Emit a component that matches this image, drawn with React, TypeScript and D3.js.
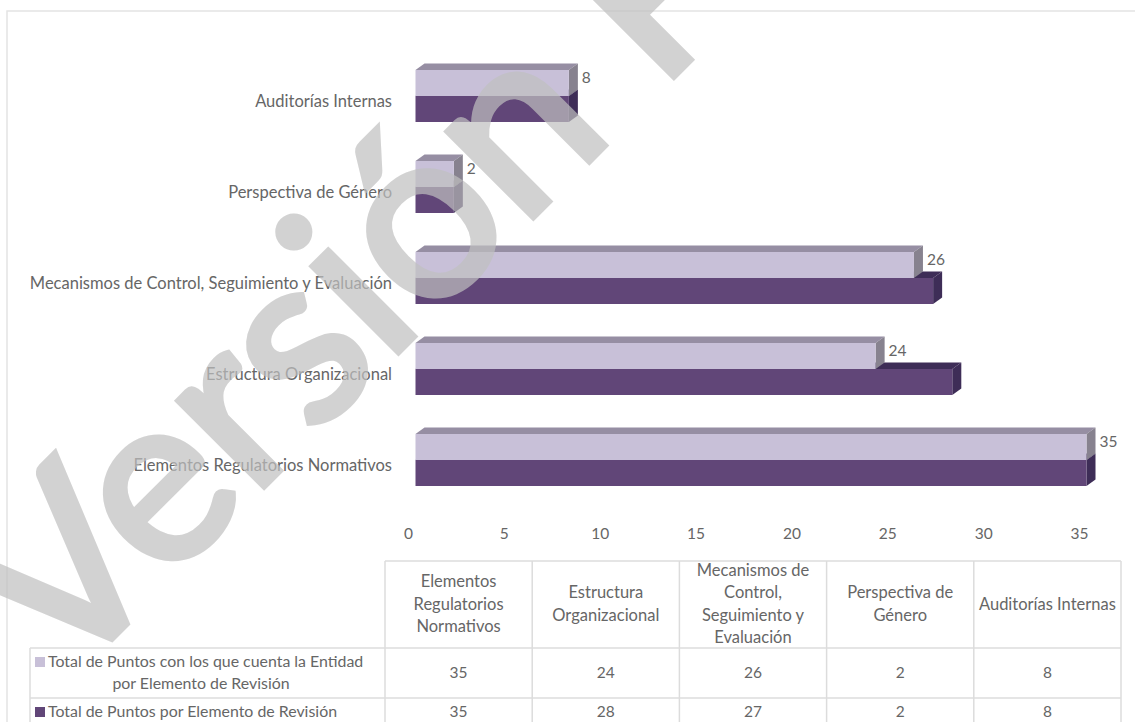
import React from "react";
import * as d3 from "d3";

const categories = ["Auditorías Internas", "Perspectiva de Género", "Mecanismos de Control, Seguimiento y Evaluación", "Estructura Organizacional", "Elementos Regulatorios Normativos"];
const entidad = [8, 2, 26, 24, 35];
const total = [8, 2, 27, 28, 35];
const ticks = [0, 5, 10, 15, 20, 25, 30, 35];
const tableHeaders = [
  ["Elementos", "Regulatorios", "Normativos"],
  ["Estructura", "Organizacional"],
  ["Mecanismos de", "Control,", "Seguimiento y", "Evaluación"],
  ["Perspectiva de", "Género"],
  ["Auditorías Internas"],
];
const rowEntidad = [35, 24, 26, 2, 8];
const rowTotal = [35, 28, 27, 2, 8];
const FONT = "Lato, Carlito, sans-serif";
const TXT = "#666666";
const GRID = "#dcdcdc";

export default function App() {
  const x = d3.scaleLinear().domain([0, 35]).range([415.5, 1086.5]);
  const band = d3.scaleBand<string>().domain(categories).range([50.5, 505.5]).paddingInner(0.4286).paddingOuter(0.2143);
  const dx = 9, dy = 6.5;
  const h = 26;
  const bar = (v: number, top: number, face: string, side: string, topC: string, key: string) => {
    const x0 = x(0), x1 = x(v);
    return (
      <g key={key}>
        <polygon points={`${x0},${top} ${x0 + dx},${top - dy} ${x1 + dx},${top - dy} ${x1},${top}`} fill={topC} />
        <polygon points={`${x1},${top} ${x1 + dx},${top - dy} ${x1 + dx},${top + h - dy} ${x1},${top + h}`} fill={side} />
        <rect x={x0} y={top} width={x1 - x0} height={h} fill={face} />
      </g>
    );
  };
  const colX = d3.scaleLinear().domain([0, 5]).range([385, 1121]);
  const rows = [561, 648, 698, 722];
  return (
    <svg width={1135} height={722} style={{ position: "absolute", left: 0, top: 0, background: "#fff" }} fontFamily={FONT}>
      <path d="M1135,11 H7 V722" fill="none" stroke="#e4e4e4" strokeWidth={1.5} />
      {categories.map((c, i) => {
        const top = band(c)!;
        return (
          <g key={c}>
            {bar(total[i], top + h, "#614678", "#3e2d57", "#3e2d57", "t" + i)}
            {bar(entidad[i], top, "#c8c0d8", "#87828f", "#968ea3", "e" + i)}
            <text x={392} y={top + h + 11} textAnchor="end" fontSize={16.5} fill={TXT}>{c}</text>
            <text x={x(entidad[i]) + 13} y={top + 13} fontSize={15.5} fill={TXT}>{entidad[i]}</text>
          </g>
        );
      })}
      {ticks.map((t) => (
        <text key={t} x={x(t) - 7} y={539} textAnchor="middle" fontSize={15.5} fill={TXT}>{t}</text>
      ))}
      <g stroke={GRID} strokeWidth={1.5} fill="none">
        <path d={`M${colX(0)},${rows[0]} H${colX(5)}`} />
        <path d={`M30,${rows[1]} H${colX(5)}`} />
        <path d={`M30,${rows[2]} H${colX(5)}`} />
        <path d={`M30,${rows[1]} V722`} />
        {d3.range(6).map((i) => <path key={i} d={`M${colX(i)},${rows[0]} V722`} />)}
      </g>
      {tableHeaders.map((lines, i) => {
        const cx = (colX(i) + colX(i + 1)) / 2;
        const lh = 22.5;
        const start = (rows[0] + rows[1]) / 2 - ((lines.length - 1) * lh) / 2 + 5;
        return <text key={i} textAnchor="middle" fontSize={16.5} fill={TXT}>
          {lines.map((l, j) => <tspan key={j} x={cx} y={start + j * lh}>{l}</tspan>)}
        </text>;
      })}
      {rowEntidad.map((v, i) => (
        <text key={i} x={(colX(i) + colX(i + 1)) / 2} y={678} textAnchor="middle" fontSize={15.5} fill={TXT}>{v}</text>
      ))}
      {rowTotal.map((v, i) => (
        <text key={i} x={(colX(i) + colX(i + 1)) / 2} y={717} textAnchor="middle" fontSize={15.5} fill={TXT}>{v}</text>
      ))}
      <rect x={35} y={657} width={10} height={10} fill="#c8c0d8" />
      <rect x={35} y={707} width={10} height={10} fill="#614678" />
      <text x={48} y={667} fontSize={15.9} fill={TXT}>Total de Puntos con los que cuenta la Entidad</text>
      <text x={201} y={689} textAnchor="middle" fontSize={15.9} fill={TXT}>por Elemento de Revisión</text>
      <text x={48} y={717} fontSize={15.9} fill={TXT}>Total de Puntos por Elemento de Revisión</text>
      <g opacity={0.7}>
        <text transform="translate(62,688) rotate(-45)" fontSize={238} fontFamily={FONT} fill="#c0c0c0" stroke="#c0c0c0" strokeWidth={7}>Versión Pública</text>
      </g>
    </svg>
  );
}
